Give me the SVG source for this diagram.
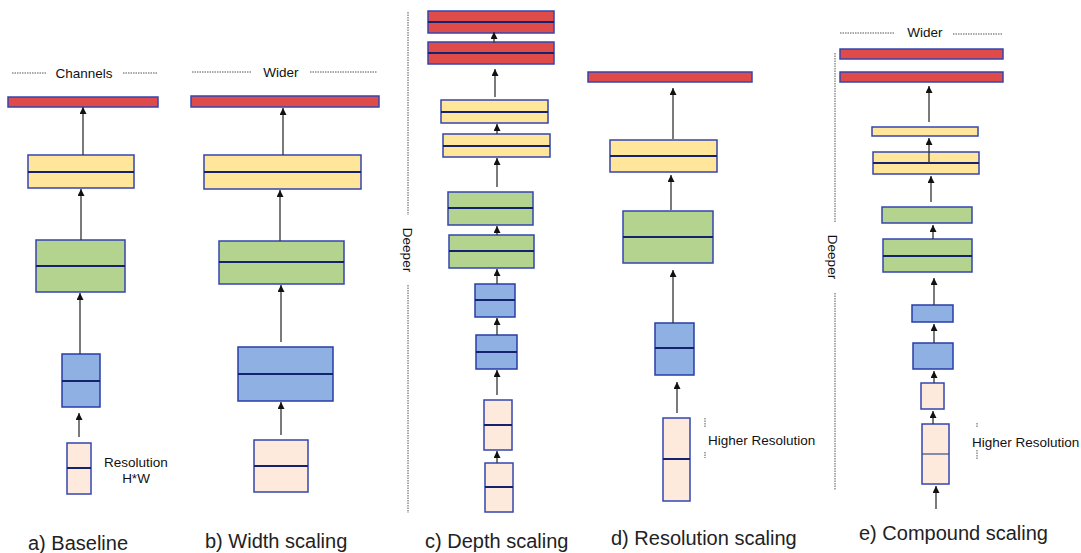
<svg xmlns="http://www.w3.org/2000/svg" width="1081" height="553" viewBox="0 0 1081 553">
<style>
.r{fill:#DE4B49;stroke:#3545B0;stroke-width:1.5}
.y{fill:#FFE69A;stroke:#3545B0;stroke-width:1.5}
.g{fill:#B4D38F;stroke:#3545B0;stroke-width:1.5}
.b{fill:#8FB0E2;stroke:#2A3CA8;stroke-width:1.5}
.p{fill:#FDEADC;stroke:#3545B0;stroke-width:1.5}
.d{stroke:#15236E;stroke-width:2}
.a{stroke:#333;stroke-width:1.3;fill:none;marker-end:url(#ah)}
.dot{stroke:#555;stroke-width:1;stroke-dasharray:1.5 1;fill:none}
.t{font-family:"Liberation Sans",Arial,sans-serif;font-size:13.5px;fill:#111}
.cap{font-family:"Liberation Sans",Arial,sans-serif;font-size:20px;fill:#222}
</style>
<defs>
<marker id="ah" viewBox="0 0 10 10" refX="10" refY="5" markerWidth="7" markerHeight="7" markerUnits="userSpaceOnUse" orient="auto">
<path d="M0,0 L10,5 L0,10 z" fill="#111"/>
</marker>
</defs>
<rect width="1081" height="553" fill="#fff"/>

<!-- a) Baseline -->
<g id="a-red"><rect class="r" x="8" y="97" width="150" height="10"/></g>
<g id="a-yellow"><rect class="y" x="28" y="155" width="106" height="33"/><line class="d" x1="28" y1="172" x2="134" y2="172"/></g>
<g id="a-green"><rect class="g" x="36" y="240" width="89" height="52"/><line class="d" x1="36" y1="266" x2="125" y2="266"/></g>
<g id="a-blue"><rect class="b" x="62" y="354" width="38" height="53"/><line class="d" x1="62" y1="381" x2="100" y2="381"/></g>
<g id="a-peach"><rect class="p" x="67" y="443" width="24" height="51"/><line class="d" x1="67" y1="468" x2="91" y2="468" stroke-width="1.2"/></g>

<!-- b) Width -->
<g id="b-red"><rect class="r" x="191" y="96" width="188" height="11"/></g>
<g id="b-yellow"><rect class="y" x="204" y="155" width="157" height="34"/><line class="d" x1="204" y1="172" x2="361" y2="172"/></g>
<g id="b-green"><rect class="g" x="219" y="241" width="125" height="43"/><line class="d" x1="219" y1="262" x2="344" y2="262"/></g>
<g id="b-blue"><rect class="b" x="238" y="347" width="95" height="54"/><line class="d" x1="238" y1="374" x2="333" y2="374"/></g>
<g id="b-peach"><rect class="p" x="254" y="440" width="54" height="52"/><line class="d" x1="254" y1="466" x2="308" y2="466"/></g>

<!-- c) Depth -->
<g id="c-red1"><rect class="r" x="428" y="11" width="126" height="22"/><line class="d" x1="428" y1="22" x2="554" y2="22"/></g>
<g id="c-red2"><rect class="r" x="428" y="42" width="126" height="22"/><line class="d" x1="428" y1="53" x2="554" y2="53"/></g>
<g id="c-yellow1"><rect class="y" x="441" y="100" width="107" height="23"/><line class="d" x1="441" y1="112" x2="548" y2="112"/></g>
<g id="c-yellow2"><rect class="y" x="443" y="134" width="107" height="23"/><line class="d" x1="443" y1="146" x2="550" y2="146"/></g>
<g id="c-green1"><rect class="g" x="448" y="192" width="85" height="33"/><line class="d" x1="448" y1="208" x2="533" y2="208"/></g>
<g id="c-green2"><rect class="g" x="449" y="235" width="85" height="33"/><line class="d" x1="449" y1="251" x2="534" y2="251"/></g>
<g id="c-blue1"><rect class="b" x="475" y="284" width="40" height="33"/><line class="d" x1="475" y1="300" x2="515" y2="300"/></g>
<g id="c-blue2"><rect class="b" x="476" y="335" width="41" height="34"/><line class="d" x1="476" y1="352" x2="517" y2="352"/></g>
<g id="c-peach1"><rect class="p" x="484" y="400" width="28" height="50"/><line class="d" x1="484" y1="425" x2="512" y2="425"/></g>
<g id="c-peach2"><rect class="p" x="485" y="463" width="28" height="49"/><line class="d" x1="485" y1="487" x2="513" y2="487"/></g>

<!-- d) Resolution -->
<g id="d-red"><rect class="r" x="588" y="72" width="164" height="10"/></g>
<g id="d-yellow"><rect class="y" x="610" y="140" width="107" height="32"/><line class="d" x1="610" y1="156" x2="717" y2="156"/></g>
<g id="d-green"><rect class="g" x="623" y="211" width="90" height="52"/><line class="d" x1="623" y1="237" x2="713" y2="237"/></g>
<g id="d-blue"><rect class="b" x="655" y="323" width="39" height="52"/><line class="d" x1="655" y1="348" x2="694" y2="348"/></g>
<g id="d-peach"><rect class="p" x="663" y="418" width="27" height="83"/><line class="d" x1="663" y1="459" x2="690" y2="459"/></g>

<!-- e) Compound -->
<g id="e-red1"><rect class="r" x="840" y="49" width="163" height="10"/></g>
<g id="e-red2"><rect class="r" x="840" y="72" width="163" height="10"/></g>
<g id="e-yellow1"><rect class="y" x="872" y="127" width="106" height="9"/></g>
<g id="e-yellow2"><rect class="y" x="873" y="152" width="106" height="22"/><line class="d" x1="873" y1="163" x2="979" y2="163"/></g>
<g id="e-green1"><rect class="g" x="882" y="207" width="90" height="16"/></g>
<g id="e-green2"><rect class="g" x="883" y="239" width="89" height="33"/><line class="d" x1="883" y1="256" x2="972" y2="256"/></g>
<g id="e-blue1"><rect class="b" x="912" y="305" width="41" height="17"/></g>
<g id="e-blue2"><rect class="b" x="913" y="343" width="40" height="26"/></g>
<g id="e-peach1"><rect class="p" x="921" y="383" width="23" height="26"/></g>
<g id="e-peach2"><rect class="p" x="922" y="424" width="27" height="60"/><line x1="922" y1="454" x2="949" y2="454" stroke="#3a4a8a" stroke-width="1.2"/></g>

<g id="connectors">
<path class="a" d="M83,155 V107"/>
<path class="a" d="M81,240 V189"/>
<path class="a" d="M80,354 V293"/>
<path class="a" d="M79,437 V413"/>

<path class="a" d="M283,155 V108"/>
<path class="a" d="M280,241 V190"/>
<path class="a" d="M281,342 V285"/>
<path class="a" d="M281,435 V402"/>

<path class="a" d="M494,43 V32"/>
<path class="a" d="M495,97 V69"/>
<path class="a" d="M497,134 V124"/>
<path class="a" d="M497,187 V158"/>
<path class="a" d="M497,235 V226"/>
<path class="a" d="M497,284 V269"/>
<path class="a" d="M497,335 V318"/>
<path class="a" d="M497,395 V370"/>
<path class="a" d="M497,463 V451"/>

<path class="a" d="M673,139 V88"/>
<path class="a" d="M671,210 V175"/>
<path class="a" d="M673,323 V270"/>
<path class="a" d="M677,413 V382"/>

<path class="a" d="M929,122 V86"/>
<path class="a" d="M929,163 V138"/>
<path class="a" d="M931,202 V176"/>
<path class="a" d="M933,239 V225"/>
<path class="a" d="M934,305 V278"/>
<path class="a" d="M934,343 V324"/>
<path class="a" d="M934,383 V371"/>
<path class="a" d="M933,424 V411"/>
<path class="a" d="M936,509 V486"/>
</g>

<g id="annotations">
<line class="dot" x1="12" y1="73" x2="46" y2="73"/>
<line class="dot" x1="123" y1="73" x2="158" y2="73"/>
<text class="t" x="84" y="78" text-anchor="middle">Channels</text>

<line class="dot" x1="192" y1="72" x2="252" y2="72"/>
<line class="dot" x1="310" y1="72" x2="377" y2="72"/>
<text class="t" x="281" y="77" text-anchor="middle" font-size="14">Wider</text>

<line class="dot" x1="840" y1="33" x2="895" y2="33"/>
<line class="dot" x1="953" y1="34" x2="1003" y2="34"/>
<text class="t" x="925" y="37" text-anchor="middle" font-size="14">Wider</text>

<text class="t" x="104" y="467">Resolution</text>
<text class="t" x="136" y="483" text-anchor="middle">H*W</text>

<line class="dot" x1="408" y1="12" x2="408" y2="215"/>
<line class="dot" x1="408" y1="285" x2="408" y2="513"/>
<text class="t" transform="translate(407,250) rotate(90)" text-anchor="middle" dominant-baseline="central">Deeper</text>

<line class="dot" x1="835" y1="53" x2="835" y2="222"/>
<line class="dot" x1="835" y1="293" x2="835" y2="490"/>
<text class="t" transform="translate(832,257) rotate(90)" text-anchor="middle" dominant-baseline="central">Deeper</text>

<line class="dot" x1="705" y1="418" x2="705" y2="427"/>
<line class="dot" x1="705" y1="452" x2="705" y2="458"/>
<text class="t" x="708" y="445">Higher Resolution</text>

<line class="dot" x1="977" y1="423" x2="977" y2="428"/>
<line class="dot" x1="977" y1="450" x2="977" y2="460"/>
<text class="t" x="972" y="447">Higher Resolution</text>

<text class="cap" x="28" y="550">a) Baseline</text>
<text class="cap" x="205" y="548">b) Width scaling</text>
<text class="cap" x="425" y="548">c) Depth scaling</text>
<text class="cap" x="611" y="545">d) Resolution scaling</text>
<text class="cap" x="859" y="540">e) Compound scaling</text>
</g>
</svg>
